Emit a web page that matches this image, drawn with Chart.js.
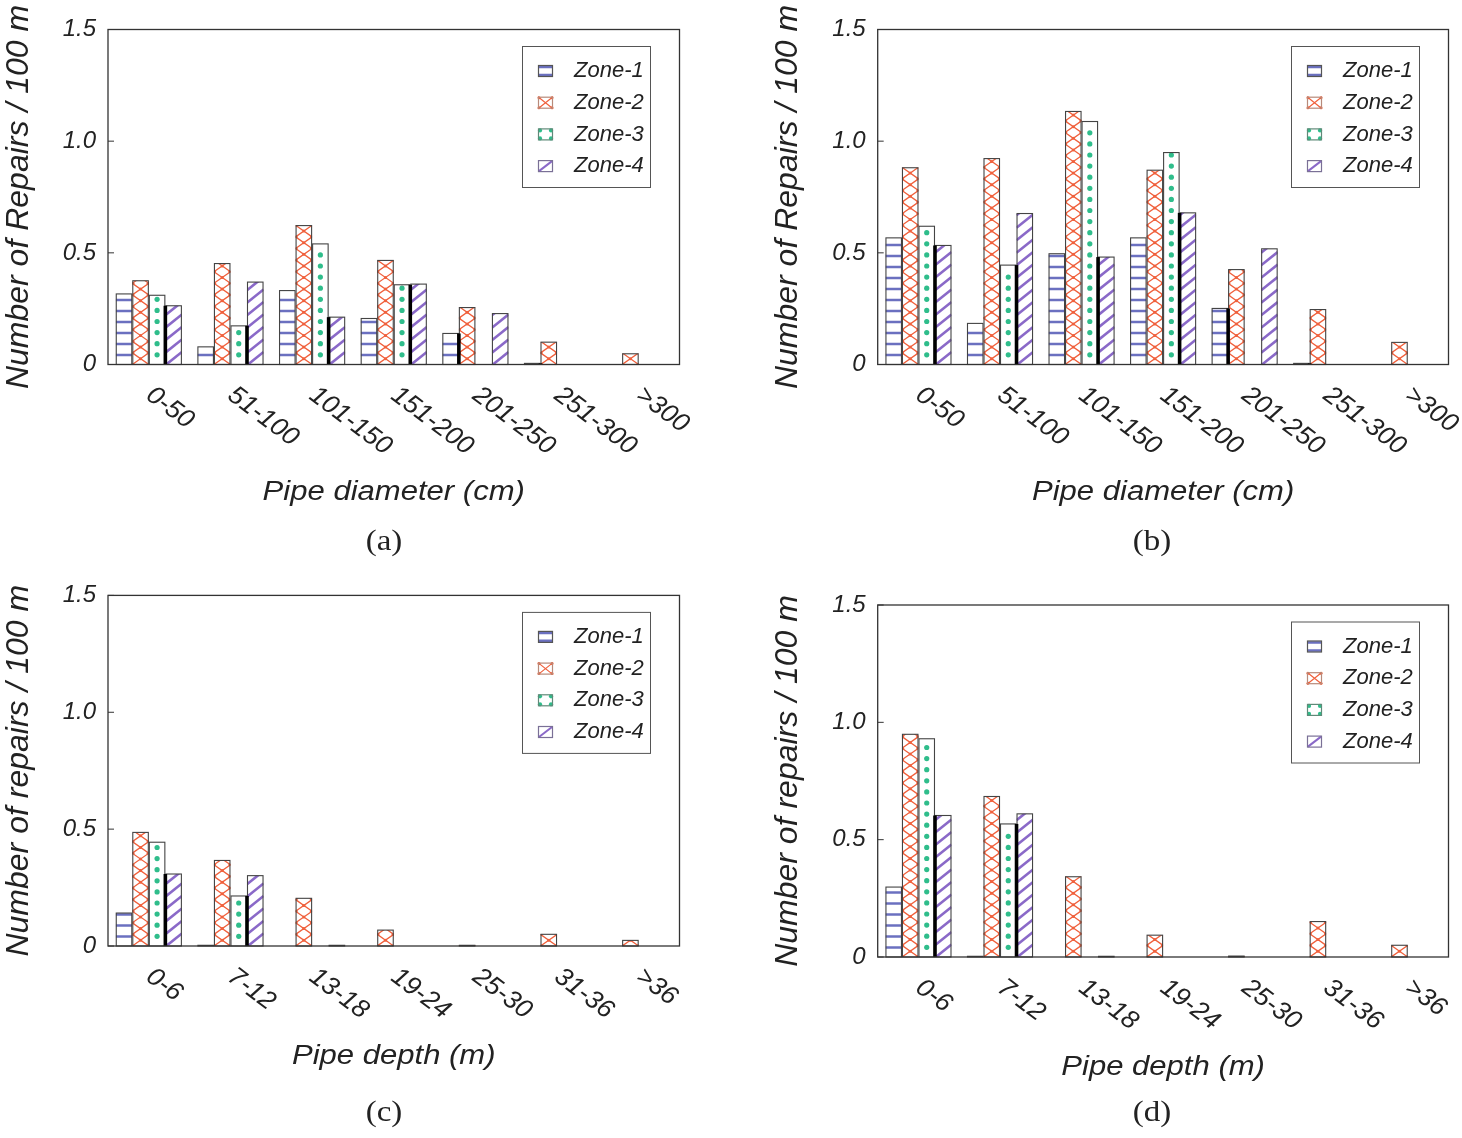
<!DOCTYPE html>
<html>
<head>
<meta charset="utf-8">
<script src="https://cdn.jsdelivr.net/npm/chart.js@4.4.1/dist/chart.umd.min.js"></script>
<style>
html,body{margin:0;padding:0;background:#fff;width:1462px;height:1138px;overflow:hidden}
canvas{position:absolute;display:block}
</style>
</head>
<body>
<canvas id="ca" width="731" height="569" style="left:0;top:0;width:731px;height:569px"></canvas>
<canvas id="cb" width="731" height="569" style="left:731px;top:0;width:731px;height:569px"></canvas>
<canvas id="cc" width="731" height="569" style="left:0;top:569px;width:731px;height:569px"></canvas>
<canvas id="cd" width="731" height="569" style="left:731px;top:569px;width:731px;height:569px"></canvas>
<script>
// ---------- data ----------
const zones = ['Zone-1', 'Zone-2', 'Zone-3', 'Zone-4'];
const diameterLabels = ['0-50', '51-100', '101-150', '151-200', '201-250', '251-300', '>300'];
const depthLabels = ['0-6', '7-12', '13-18', '19-24', '25-30', '31-36', '>36'];
const yTicks = [0, 0.5, 1.0, 1.5];

// (a) repairs per 100 m by pipe diameter
const aZone1 = [0.316, 0.079, 0.331, 0.206, 0.139, 0.005, 0];
const aZone2 = [0.375, 0.452, 0.622, 0.466, 0.255, 0.100, 0.048];
const aZone3 = [0.310, 0.173, 0.540, 0.357, 0, 0, 0];
const aZone4 = [0.263, 0.369, 0.212, 0.360, 0.228, 0, 0];
// (b)
const bZone1 = [0.567, 0.184, 0.496, 0.567, 0.251, 0.005, 0];
const bZone2 = [0.881, 0.922, 1.133, 0.870, 0.425, 0.246, 0.099];
const bZone3 = [0.619, 0.445, 1.088, 0.949, 0, 0, 0];
const bZone4 = [0.533, 0.676, 0.481, 0.679, 0.518, 0, 0];
// (c) repairs per 100 m by pipe depth
const cZone1 = [0.141, 0.003, 0, 0, 0, 0, 0];
const cZone2 = [0.486, 0.366, 0.204, 0.068, 0.003, 0.050, 0.024];
const cZone3 = [0.444, 0.214, 0, 0, 0, 0, 0];
const cZone4 = [0.308, 0.301, 0.003, 0, 0, 0, 0];
// (d)
const dZone1 = [0.298, 0.003, 0, 0, 0, 0, 0];
const dZone2 = [0.949, 0.684, 0.342, 0.093, 0.004, 0.151, 0.050];
const dZone3 = [0.930, 0.567, 0, 0, 0, 0, 0];
const dZone4 = [0.603, 0.610, 0.003, 0, 0, 0, 0];

// ---------- style ----------
const COL = ['#6b70c0', '#f0603c', '#2fbd8b', '#8a69c8'];
const SANS = '"Liberation Sans", Arial, Helvetica, sans-serif';
const SERIF = '"Liberation Serif", "Times New Roman", serif';

function drawFill(ctx, zi, x0, top, w, h, yb) {
  ctx.save();
  ctx.beginPath(); ctx.rect(x0, top, w, h); ctx.clip();
  ctx.fillStyle = '#fff'; ctx.fillRect(x0, top, w, h);
  if (zi === 0) {
    ctx.strokeStyle = COL[0]; ctx.lineWidth = 2.6;
    for (let yy = yb - 9.5; yy > top; yy -= 11) {
      ctx.beginPath(); ctx.moveTo(x0, yy); ctx.lineTo(x0 + w, yy); ctx.stroke();
    }
  } else if (zi === 1) {
    const ch = 11.6;
    ctx.strokeStyle = COL[1]; ctx.fillStyle = COL[1]; ctx.lineWidth = 1.3;
    for (let yy = yb; yy > top - ch; yy -= ch) {
      ctx.beginPath();
      ctx.moveTo(x0, yy); ctx.lineTo(x0 + w, yy - ch);
      ctx.moveTo(x0 + w, yy); ctx.lineTo(x0, yy - ch);
      ctx.stroke();
      ctx.beginPath(); ctx.arc(x0 + w / 2, yy - ch / 2, 1.5, 0, Math.PI * 2); ctx.fill();
      ctx.beginPath(); ctx.arc(x0 + 0.8, yy, 1.4, 0, Math.PI * 2); ctx.fill();
      ctx.beginPath(); ctx.arc(x0 + w - 0.8, yy, 1.4, 0, Math.PI * 2); ctx.fill();
    }
  } else if (zi === 2) {
    ctx.fillStyle = COL[2];
    for (let yy = yb - 9.7; yy > top + 1.5; yy -= 11.1) {
      ctx.beginPath(); ctx.arc(x0 + w / 2, yy, 2.6, 0, Math.PI * 2); ctx.fill();
    }
  } else {
    ctx.strokeStyle = COL[3]; ctx.lineWidth = 2.6;
    const s = 0.8;
    for (let c = yb + w * s; c > top - 14; c -= 12.5) {
      ctx.beginPath(); ctx.moveTo(x0, c); ctx.lineTo(x0 + w, c - w * s); ctx.stroke();
    }
  }
  ctx.restore();
}

function drawIcon(ctx, zi, x, y, w, h) {
  ctx.save();
  ctx.fillStyle = '#fff'; ctx.fillRect(x, y, w, h);
  if (zi === 0) {
    ctx.strokeStyle = COL[0]; ctx.lineWidth = 2.6;
    ctx.beginPath(); ctx.moveTo(x, y + 2); ctx.lineTo(x + w, y + 2);
    ctx.moveTo(x, y + h - 2); ctx.lineTo(x + w, y + h - 2); ctx.stroke();
    ctx.strokeStyle = '#555';
  } else if (zi === 1) {
    ctx.strokeStyle = COL[1]; ctx.lineWidth = 1.2;
    ctx.beginPath(); ctx.moveTo(x, y); ctx.lineTo(x + w, y + h);
    ctx.moveTo(x + w, y); ctx.lineTo(x, y + h); ctx.stroke();
    ctx.fillStyle = COL[1];
    [[x + 1, y + 1], [x + w - 1, y + 1], [x + 1, y + h - 1], [x + w - 1, y + h - 1]].forEach(p => {
      ctx.beginPath(); ctx.arc(p[0], p[1], 1.5, 0, Math.PI * 2); ctx.fill();
    });
    ctx.strokeStyle = '#b88a7a';
  } else if (zi === 2) {
    ctx.fillStyle = COL[2];
    [[x + 2, y + 2], [x + w - 2, y + 2], [x + 2, y + h - 2], [x + w - 2, y + h - 2]].forEach(p => {
      ctx.beginPath(); ctx.arc(p[0], p[1], 2.1, 0, Math.PI * 2); ctx.fill();
    });
    ctx.strokeStyle = '#5f8a78';
  } else {
    ctx.strokeStyle = COL[3]; ctx.lineWidth = 2;
    ctx.beginPath(); ctx.moveTo(x + 1, y + h - 1); ctx.lineTo(x + w - 1, y + 1); ctx.stroke();
    ctx.strokeStyle = '#7a7096';
  }
  ctx.lineWidth = 1.2;
  ctx.strokeRect(x + 0.5, y + 0.5, w - 1, h - 1);
  ctx.restore();
}

function sText(ctx, txt, x, y, sx, align) {
  ctx.save();
  ctx.translate(x, y); ctx.scale(sx, 1);
  ctx.textAlign = align; ctx.textBaseline = 'middle';
  ctx.fillText(txt, 0, 0);
  ctx.restore();
}

const panelPlugin = {
  id: 'panelDeco',
  afterDatasetsDraw(chart) {
    const ctx = chart.ctx;
    const yb = chart.scales.y.getPixelForValue(0);
    chart.data.datasets.forEach((ds, di) => {
      const meta = chart.getDatasetMeta(di);
      meta.data.forEach((el, i) => {
        const v = ds.data[i];
        if (!v) return;
        const x0 = el.x - el.width / 2, w = el.width, top = el.y, h = yb - el.y;
        drawFill(ctx, di, x0, top, w, h, yb);
        ctx.save();
        ctx.strokeStyle = '#444'; ctx.lineWidth = 1.1;
        ctx.strokeRect(x0 + 0.5, top, w - 1, Math.max(h, 0.5));
        ctx.restore();
      });
    });
    // dark separator strokes seen between neighbouring bars
    const vals = chart.data.datasets.map(d => d.data);
    for (let i = 0; i < chart.data.labels.length; i++) {
      let a = -1;
      if (vals[2][i] > 0 && vals[3][i] > 0) a = 2;
      else if (vals[0][i] > 0 && vals[1][i] > 0) a = 0;
      if (a < 0) continue;
      const e1 = chart.getDatasetMeta(a).data[i], e2 = chart.getDatasetMeta(a + 1).data[i];
      const bx = e1.x + e1.width / 2;
      const ty = Math.max(e1.y, e2.y);
      ctx.fillStyle = '#000';
      ctx.fillRect(bx - 1.8, ty, 3.6, Math.max(yb - ty, 1.5));
    }
  },
  afterDraw(chart) {
    const ctx = chart.ctx, ca = chart.chartArea, p = chart.options.plugins.panelDeco;
    const ys = chart.scales.y, xs = chart.scales.x;
    ctx.save();
    // frame
    ctx.strokeStyle = '#333'; ctx.lineWidth = 1.3;
    ctx.strokeRect(ca.left, ca.top, ca.right - ca.left, ca.bottom - ca.top);
    // inner tick marks
    ctx.lineWidth = 1;
    yTicks.forEach(t => {
      const py = ys.getPixelForValue(t);
      ctx.beginPath(); ctx.moveTo(ca.left, py); ctx.lineTo(ca.left + 6, py); ctx.stroke();
    });
    // rotated category labels
    ctx.fillStyle = '#222';
    ctx.font = 'italic 26px ' + SANS;
    chart.data.labels.forEach((lab, i) => {
      const gx = xs.getPixelForValue(i);
      ctx.save();
      ctx.translate(gx + 6, ca.bottom + 32);
      ctx.rotate(37 * Math.PI / 180);
      ctx.textAlign = 'left'; ctx.textBaseline = 'middle';
      ctx.fillText(lab, -7.2, 0);
      ctx.restore();
    });
    // x axis title
    ctx.font = 'italic 27px ' + SANS;
    sText(ctx, p.xTitle, (ca.left + ca.right) / 2, p.xTitleY, 1.15, 'center');
    // caption
    ctx.font = '30px ' + SERIF;
    sText(ctx, p.caption, p.capX, p.capY, 1.1, 'center');
    // legend
    const lw = 128, lh = 141;
    const lx0 = ca.right - 29.5 - lw, ly0 = ca.top + 16.5;
    ctx.strokeStyle = '#555'; ctx.lineWidth = 1;
    ctx.strokeRect(lx0 + 0.5, ly0 + 0.5, lw, lh);
    ctx.font = 'italic 22px ' + SANS;
    chart.data.datasets.forEach((ds, k) => {
      const cy = ly0 + 25 + k * 31.7;
      drawIcon(ctx, k, lx0 + 16, cy - 6, 15, 12);
      ctx.fillStyle = '#222';
      ctx.textAlign = 'left'; ctx.textBaseline = 'middle';
      ctx.fillText(ds.label, lx0 + 52, cy);
    });
    ctx.restore();
  }
};

function makePanel(id, labels, series, p) {
  const datasets = series.map((arr, i) => ({
    label: zones[i],
    data: arr,
    backgroundColor: 'rgba(255,255,255,0)',
    borderWidth: 0,
    categoryPercentage: 0.81,
    barPercentage: 1.0
  }));
  return new Chart(document.getElementById(id), {
    type: 'bar',
    data: { labels: labels, datasets: datasets },
    options: {
      responsive: false,
      animation: false,
      devicePixelRatio: 1,
      layout: { padding: { left: p.padL, top: p.top, right: p.padR, bottom: 0 } },
      plugins: {
        legend: { display: false },
        tooltip: { enabled: false },
        panelDeco: p
      },
      scales: {
        x: {
          grid: { display: false },
          border: { display: false },
          ticks: { display: false },
          afterFit(s) { s.height = p.xH; }
        },
        y: {
          min: 0, max: 1.5,
          grid: { display: false, drawTicks: false },
          border: { display: false },
          afterBuildTicks(s) { s.ticks = yTicks.map(v => ({ value: v })); },
          ticks: {
            padding: 12,
            color: '#222',
            font: { family: SANS, size: 24, style: 'italic' },
            callback: v => (v === 0 ? '0' : Number(v).toFixed(1))
          },
          title: {
            display: true,
            text: p.yTitle,
            color: '#222',
            padding: 0,
            font: { family: SANS, size: 32, style: 'italic', lineHeight: p.yTitleLH }
          },
          afterFit(s) { s.width = p.yW; }
        }
      }
    },
    plugins: [panelPlugin]
  });
}

makePanel('ca', diameterLabels, [aZone1, aZone2, aZone3, aZone4], {
  padL: 0, yW: 108, padR: 51.5, top: 29.5, xH: 204.5, yTitleLH: '38px',
  yTitle: 'Number of Repairs / 100 m', xTitle: 'Pipe diameter (cm)', xTitleY: 492.5,
  caption: '(a)', capX: 384, capY: 542
});
makePanel('cb', diameterLabels, [bZone1, bZone2, bZone3, bZone4], {
  padL: 46, yW: 100.7, padR: 13.5, top: 29.5, xH: 204.5, yTitleLH: '22px',
  yTitle: 'Number of Repairs / 100 m', xTitle: 'Pipe diameter (cm)', xTitleY: 492.5,
  caption: '(b)', capX: 421, capY: 542
});
makePanel('cc', depthLabels, [cZone1, cZone2, cZone3, cZone4], {
  padL: 0, yW: 108, padR: 51.5, top: 25.3, xH: 192, yTitleLH: '38px',
  yTitle: 'Number of repairs / 100 m', xTitle: 'Pipe depth (m)', xTitleY: 487,
  caption: '(c)', capX: 384, capY: 544
});
makePanel('cd', depthLabels, [dZone1, dZone2, dZone3, dZone4], {
  padL: 46, yW: 100.7, padR: 13.5, top: 36, xH: 181, yTitleLH: '22px',
  yTitle: 'Number of repairs / 100 m', xTitle: 'Pipe depth (m)', xTitleY: 498,
  caption: '(d)', capX: 421, capY: 544
});
</script>
</body>
</html>
